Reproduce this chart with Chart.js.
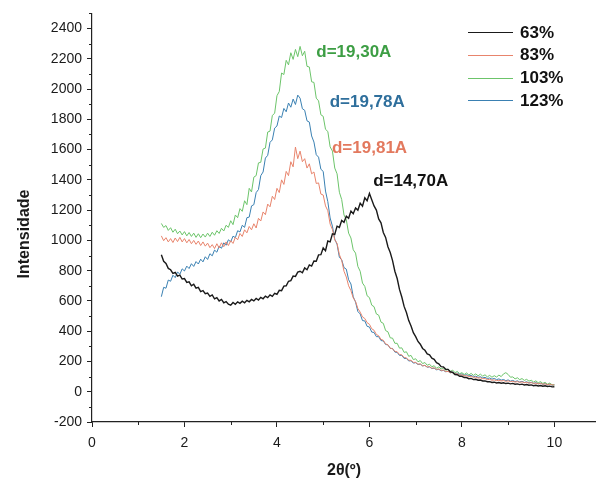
<!DOCTYPE html>
<html lang="pt">
<head>
<meta charset="UTF-8">
<title>Difratograma — Intensidade vs 2θ</title>
<style>
  *{margin:0;padding:0;box-sizing:border-box}
  body{background:#fff;width:596px;height:484px;overflow:hidden}
  #wrap{position:relative;width:596px;height:484px}
</style>
</head>
<body>
<div id="wrap"><canvas id="xrd" width="596" height="484"></canvas></div>

<script src="https://cdn.jsdelivr.net/npm/chart.js@4.4.0"></script>
<script>
/* 2θ scan positions (deg) */
const twoTheta = [
  1.50,1.55,1.60,1.65,1.70,1.75,1.80,1.85,1.90,1.95,
  2.00,2.05,2.10,2.15,2.20,2.25,2.30,2.35,2.40,2.45,
  2.50,2.55,2.60,2.65,2.70,2.75,2.80,2.85,2.90,2.95,
  3.00,3.05,3.10,3.15,3.20,3.25,3.30,3.35,3.40,3.45,
  3.50,3.55,3.60,3.65,3.70,3.75,3.80,3.85,3.90,3.95,
  4.00,4.05,4.10,4.15,4.20,4.25,4.30,4.35,4.40,4.45,
  4.50,4.55,4.60,4.65,4.70,4.75,4.80,4.85,4.90,4.95,
  5.00,5.05,5.10,5.15,5.20,5.25,5.30,5.35,5.40,5.45,
  5.50,5.55,5.60,5.65,5.70,5.75,5.80,5.85,5.90,5.95,
  6.00,6.05,6.10,6.15,6.20,6.25,6.30,6.35,6.40,6.45,
  6.50,6.55,6.60,6.65,6.70,6.75,6.80,6.85,6.90,6.95,
  7.00,7.05,7.10,7.15,7.20,7.25,7.30,7.35,7.40,7.45,
  7.50,7.55,7.60,7.65,7.70,7.75,7.80,7.85,7.90,7.95,
  8.00,8.05,8.10,8.15,8.20,8.25,8.30,8.35,8.40,8.45,
  8.50,8.55,8.60,8.65,8.70,8.75,8.80,8.85,8.90,8.95,
  9.00,9.05,9.10,9.15,9.20,9.25,9.30,9.35,9.40,9.45,
  9.50,9.55,9.60,9.65,9.70,9.75,9.80,9.85,9.90,9.95,
  10.00
];

/* Intensidade, 63% */
const i63 = [
  905,862,848,815,806,782,788,764,770,745,
  748,722,726,700,710,684,690,662,668,648,
  652,630,640,614,622,600,610,588,596,578,
  572,590,578,594,584,598,588,604,594,610,
  600,616,606,624,614,632,622,640,630,650,
  644,670,668,698,700,730,734,764,762,790,
  796,786,818,806,838,830,864,862,904,906,
  950,932,996,990,1044,1040,1094,1086,1132,1120,
  1160,1146,1194,1176,1214,1200,1246,1226,1282,1262,
  1310,1268,1228,1200,1142,1116,1052,1020,958,920,
  866,796,748,676,626,564,524,470,434,390,
  364,332,314,286,274,250,244,222,214,192,
  184,166,164,148,148,132,128,114,112,102,
  102,94,94,86,88,80,82,76,77,71,
  72,66,67,61,63,58,61,56,59,54,
  57,52,55,50,52,47,50,45,48,43,
  45,40,43,38,41,36,39,35,37,32,
  33
];

/* Intensidade, 83% */
const i83 = [
  1030,998,1018,990,1012,986,1016,992,1020,990,
  1012,984,1006,978,1000,974,996,966,990,962,
  982,952,972,946,978,950,984,958,990,966,
  998,980,1020,1004,1046,1026,1070,1050,1092,1070,
  1110,1082,1146,1128,1188,1170,1240,1222,1292,1270,
  1344,1316,1400,1370,1456,1428,1520,1486,1617,1540,
  1590,1520,1540,1478,1506,1440,1452,1376,1380,1306,
  1300,1228,1196,1108,1072,1004,980,906,868,796,
  758,700,668,620,596,550,526,494,484,456,
  446,416,406,378,370,346,340,316,310,288,
  284,266,264,246,244,226,224,208,208,194,
  194,182,184,171,174,163,166,155,158,147,
  151,141,143,133,135,125,128,117,119,109,
  112,105,106,100,102,95,97,90,92,86,
  87,80,82,76,78,73,76,71,74,69,
  72,67,69,64,67,62,65,60,62,57,
  60,55,57,52,55,50,52,47,50,45,
  45
];

/* Intensidade, 103% */
const i103 = [
  1112,1086,1098,1066,1084,1054,1074,1044,1062,1036,
  1058,1030,1052,1026,1048,1020,1044,1018,1042,1022,
  1048,1026,1054,1034,1064,1046,1080,1062,1100,1086,
  1130,1104,1168,1150,1210,1192,1262,1236,1344,1320,
  1418,1428,1512,1516,1604,1610,1716,1722,1826,1840,
  1956,1984,2106,2096,2190,2160,2240,2196,2262,2214,
  2282,2220,2250,2150,2146,2048,2044,1940,1922,1830,
  1820,1734,1720,1618,1590,1478,1440,1318,1270,1168,
  1136,1048,1016,938,916,828,796,718,696,634,
  622,572,562,514,506,460,452,404,396,356,
  354,320,320,288,290,260,264,234,240,212,
  218,198,206,186,193,175,182,165,172,155,
  164,150,158,141,150,134,143,126,134,119,
  126,114,124,111,121,108,118,105,116,103,
  112,98,108,96,106,97,110,100,118,126,
  114,96,98,85,92,80,87,75,82,70,
  76,64,72,59,67,55,62,50,57,46,
  45
];

/* Intensidade, 123% */
const i123 = [
  628,690,684,738,730,770,754,792,776,812,
  798,830,814,846,828,860,844,876,858,892,
  874,912,898,936,922,962,948,984,968,1004,
  990,1028,1018,1064,1056,1100,1086,1150,1154,1228,
  1236,1316,1336,1428,1452,1544,1562,1648,1664,1742,
  1756,1822,1812,1872,1850,1908,1880,1934,1898,1960,
  1940,1870,1860,1790,1782,1690,1650,1566,1550,1470,
  1456,1326,1256,1148,1094,1008,974,888,872,820,
  810,740,712,628,592,530,514,470,468,432,
  428,394,392,364,364,338,336,312,310,286,
  286,262,260,240,240,220,220,203,205,189,
  192,180,182,171,174,162,164,153,156,145,
  148,138,141,132,135,126,129,120,123,115,
  118,109,113,104,108,99,103,95,99,91,
  95,87,91,83,88,80,85,77,81,73,
  78,70,75,67,72,64,69,61,66,58,
  63,55,60,52,57,49,54,46,51,43,
  45
];

const seriesNames  = ['63%','83%','103%','123%'];
const seriesColors = ['#1a1a1a','#e8846c','#6cc46a','#3a80b2'];

/* peak labels: text, 2θ / intensity anchor, colour */
const peakText  = ['d=19,30A','d=19,78A','d=19,81A','d=14,70A'];
const peakX     = [4.85, 5.14, 5.19, 6.08];
const peakY     = [2240, 1910, 1610, 1390];
const peakColor = ['#3d9e44','#2f6f9c','#e3795e','#111111'];

const xTicks = [0,2,4,6,8,10];
const yTicks = [-200,0,200,400,600,800,1000,1200,1400,1600,1800,2000,2200,2400];

const pts = arr => twoTheta.map((x,i)=>({x:x, y:arr[i]}));
const allSeries = [i63,i83,i103,i123];
const FONT = '"Liberation Sans", Arial, sans-serif';

/* minor ticks, axis title, legend and peak labels */
const extras = {
  id:'extras',
  afterDraw(chart){
    const c = chart.ctx, xs = chart.scales.x, ys = chart.scales.y;
    const x0 = xs.left, y0 = ys.bottom;
    c.save();
    c.strokeStyle = '#222'; c.lineWidth = 1;
    c.beginPath();
    for(let v=1; v<=9; v+=2){
      const px = Math.round(xs.getPixelForValue(v))+0.5;
      c.moveTo(px,y0); c.lineTo(px,y0+3);
    }
    for(let v=-100; v<=2500; v+=200){
      const py = Math.round(ys.getPixelForValue(v))+0.5;
      c.moveTo(x0,py); c.lineTo(x0-3,py);
    }
    c.stroke();

    // y title
    c.fillStyle = '#1a1a1a';
    c.font = 'bold 16px ' + FONT;
    c.textAlign = 'center'; c.textBaseline = 'middle';
    c.translate(25,234); c.rotate(-Math.PI/2);
    c.fillText('Intensidade',0,0);
    c.setTransform(1,0,0,1,0,0);

    // legend
    c.font = 'bold 17px ' + FONT;
    c.textAlign = 'left';
    seriesNames.forEach((n,i)=>{
      const y = 32 + i*22.8;
      c.strokeStyle = seriesColors[i]; c.lineWidth = 1.2;
      c.beginPath(); c.moveTo(468,Math.round(y)+0.5); c.lineTo(513,Math.round(y)+0.5); c.stroke();
      c.fillStyle = '#111';
      c.fillText(n,520,y+1);
    });

    // peak labels
    peakText.forEach((t,i)=>{
      c.fillStyle = peakColor[i];
      c.fillText(t, xs.getPixelForValue(peakX[i]), ys.getPixelForValue(peakY[i]));
    });
    c.restore();
  }
};

new Chart(document.getElementById('xrd'),{
  type:'line',
  data:{
    datasets: allSeries.map((s,i)=>({
      label:seriesNames[i], data:pts(s),
      borderColor:seriesColors[i], borderWidth: i===0 ? 1.4 : 1,
      pointRadius:0, tension:0, fill:false
    }))
  },
  options:{
    responsive:false, animation:false,
    layout:{padding:{top:8,right:0,left:0,bottom:0}},
    plugins:{legend:{display:false}, tooltip:{enabled:false}},
    scales:{
      x:{
        type:'linear', min:0, max:10.9,
        afterBuildTicks: s => { s.ticks = xTicks.map(v=>({value:v})); },
        afterFit: s => { s.height = 62; },
        border:{display:true,color:'#222',width:1.2},
        grid:{drawOnChartArea:false,drawTicks:true,tickLength:5,color:'#222'},
        ticks:{color:'#1a1a1a',padding:8,callback:v=>String(v),font:{family:FONT,size:14}},
        title:{display:true,text:'2θ(º)',color:'#1a1a1a',padding:{top:4,bottom:4},
               font:{family:FONT,size:16,weight:'bold'}}
      },
      y:{
        type:'linear', min:-200, max:2500,
        afterBuildTicks: s => { s.ticks = yTicks.map(v=>({value:v})); },
        afterFit: s => { s.width = 92; },
        border:{display:true,color:'#222',width:1.2},
        grid:{drawOnChartArea:false,drawTicks:true,tickLength:5,color:'#222'},
        ticks:{color:'#1a1a1a',padding:5,callback:v=>String(v),font:{family:FONT,size:14}}
      }
    }
  },
  plugins:[extras]
});
</script>
</body>
</html>
